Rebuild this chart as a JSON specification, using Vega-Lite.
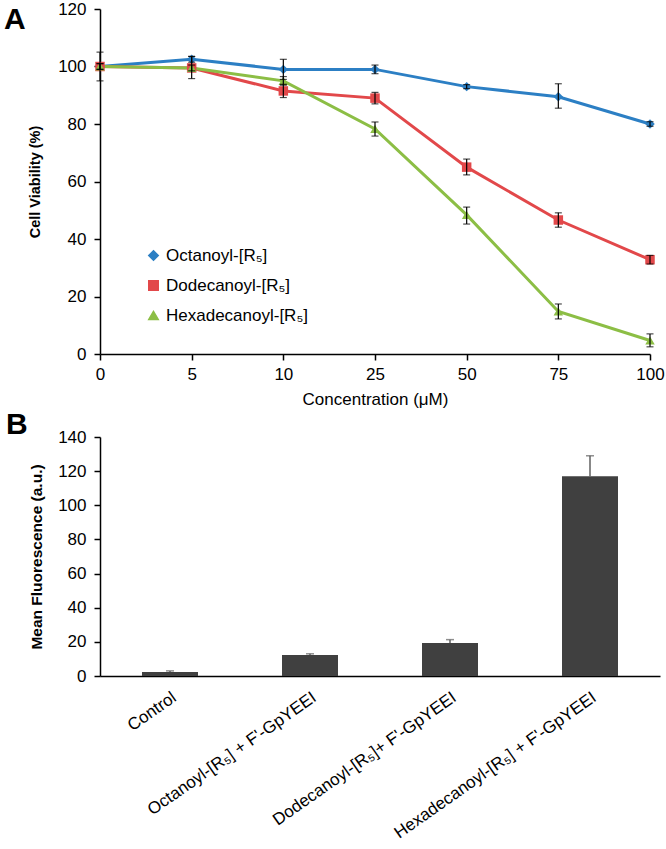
{
  "$schema": "https://vega.github.io/schema/vega-lite/v6.json",
  "background": "white",
  "padding": {"left": 3, "top": 0, "right": 4, "bottom": 0},
  "spacing": 3,
  "config": {
    "font": "Liberation Sans",
    "view": {"stroke": null},
    "axis": {
      "labelFont": "Liberation Sans",
      "labelFontSize": 17,
      "labelColor": "black",
      "domainColor": "black",
      "tickColor": "black",
      "domainWidth": 1.5,
      "tickWidth": 1.5,
      "tickSize": 6,
      "grid": false,
      "labelOverlap": false,
      "labelLimit": 0,
      "titleFont": "Liberation Sans",
      "titleColor": "black",
      "titleFontSize": 16
    },
    "legend": {"labelFont": "Liberation Sans", "labelColor": "black"}
  },
  "vconcat": [
    {
      "width": 550,
      "height": 345,
      "title": {"text": "A", "orient": "left", "anchor": "end", "angle": 0, "fontSize": 30, "fontWeight": "bold", "font": "Liberation Sans", "color": "black", "baseline": "top", "align": "left", "offset": 2, "dy": 5},
      "data": {"values": [
        {"conc": "0", "series": "Octanoyl-[R₅]", "v": 100, "lo": 95, "hi": 105},
        {"conc": "5", "series": "Octanoyl-[R₅]", "v": 102.5, "lo": 101.5, "hi": 103.5},
        {"conc": "10", "series": "Octanoyl-[R₅]", "v": 99, "lo": 95.5, "hi": 102.5},
        {"conc": "25", "series": "Octanoyl-[R₅]", "v": 99, "lo": 97.5, "hi": 100.5},
        {"conc": "50", "series": "Octanoyl-[R₅]", "v": 93, "lo": 92.3, "hi": 93.7},
        {"conc": "75", "series": "Octanoyl-[R₅]", "v": 89.5, "lo": 85.5, "hi": 94},
        {"conc": "100", "series": "Octanoyl-[R₅]", "v": 80, "lo": 79.2, "hi": 80.8},
        {"conc": "0", "series": "Dodecanoyl-[R₅]", "v": 100, "lo": 99, "hi": 101},
        {"conc": "5", "series": "Dodecanoyl-[R₅]", "v": 99.5, "lo": 98.5, "hi": 100.5},
        {"conc": "10", "series": "Dodecanoyl-[R₅]", "v": 91.5, "lo": 89.2, "hi": 93.8},
        {"conc": "25", "series": "Dodecanoyl-[R₅]", "v": 89, "lo": 87, "hi": 91},
        {"conc": "50", "series": "Dodecanoyl-[R₅]", "v": 65, "lo": 62.3, "hi": 67.8},
        {"conc": "75", "series": "Dodecanoyl-[R₅]", "v": 46.6, "lo": 44.1, "hi": 49.1},
        {"conc": "100", "series": "Dodecanoyl-[R₅]", "v": 32.8, "lo": 31.3, "hi": 34.3},
        {"conc": "0", "series": "Hexadecanoyl-[R₅]", "v": 100, "lo": 99, "hi": 101},
        {"conc": "5", "series": "Hexadecanoyl-[R₅]", "v": 99.5, "lo": 95.8, "hi": 103.5},
        {"conc": "10", "series": "Hexadecanoyl-[R₅]", "v": 95, "lo": 93.5, "hi": 96.5},
        {"conc": "25", "series": "Hexadecanoyl-[R₅]", "v": 78.3, "lo": 75.8, "hi": 80.7},
        {"conc": "50", "series": "Hexadecanoyl-[R₅]", "v": 48.4, "lo": 45.2, "hi": 51.1},
        {"conc": "75", "series": "Hexadecanoyl-[R₅]", "v": 14.8, "lo": 12.2, "hi": 17.4},
        {"conc": "100", "series": "Hexadecanoyl-[R₅]", "v": 4.7, "lo": 2.5, "hi": 7}
      ]},
      "layer": [
        {
          "mark": {"type": "line", "strokeWidth": 3},
          "encoding": {
            "x": {"field": "conc", "type": "ordinal", "sort": ["0", "5", "10", "25", "50", "75", "100"], "scale": {"type": "point", "padding": 0}, "axis": {"title": "Concentration (μM)", "labelAngle": 0, "labelPadding": 6, "titleFontWeight": "normal", "titleFontSize": 17, "titlePadding": 9}},
            "y": {"field": "v", "type": "quantitative", "scale": {"domain": [0, 120]}, "title": "Cell Viability (%)", "axis": {"values": [0, 20, 40, 60, 80, 100, 120], "labelOverlap": false, "labelPadding": 8, "titleFontWeight": "bold", "titleFontSize": 14.5, "titlePadding": 15}},
            "color": {"field": "series", "type": "nominal", "scale": {"domain": ["Octanoyl-[R₅]", "Dodecanoyl-[R₅]", "Hexadecanoyl-[R₅]"], "range": ["#2C7FC4", "#E2484A", "#8CBE45"]}, "legend": {"orient": "none", "legendX": 45, "legendY": 238, "title": null, "labelFontSize": 17, "rowPadding": 12, "symbolSize": 90}}
          }
        },
        {
          "mark": {"type": "point", "filled": true, "opacity": 1, "size": 90},
          "encoding": {
            "x": {"field": "conc", "type": "ordinal", "sort": ["0", "5", "10", "25", "50", "75", "100"]},
            "y": {"field": "v", "type": "quantitative", "title": "Cell Viability (%)"},
            "color": {"field": "series", "type": "nominal", "legend": {"orient": "none", "legendX": 45, "legendY": 238, "title": null, "labelFontSize": 17, "rowPadding": 12, "symbolSize": 90}},
            "shape": {"field": "series", "type": "nominal", "scale": {"domain": ["Octanoyl-[R₅]", "Dodecanoyl-[R₅]", "Hexadecanoyl-[R₅]"], "range": ["diamond", "square", "triangle-up"]}, "legend": {"orient": "none", "legendX": 45, "legendY": 238, "title": null, "labelFontSize": 17, "rowPadding": 12, "symbolSize": 90}}
          }
        },
        {
          "mark": {"type": "errorbar", "color": "black", "thickness": 1.2, "ticks": {"size": 7, "color": "black"}},
          "encoding": {
            "x": {"field": "conc", "type": "ordinal", "sort": ["0", "5", "10", "25", "50", "75", "100"]},
            "y": {"field": "lo", "type": "quantitative", "title": "Cell Viability (%)"},
            "y2": {"field": "hi"}
          }
        }
      ]
    },
    {
      "width": 560,
      "height": 239,
      "title": {"text": "B", "orient": "left", "anchor": "end", "angle": 0, "fontSize": 30, "fontWeight": "bold", "font": "Liberation Sans", "color": "black", "baseline": "top", "align": "left", "offset": 2, "dy": -18},
      "data": {"values": [
        {"g": "Control", "v": 2.3, "hi": 3},
        {"g": "Octanoyl-[R₅] + F'-GpYEEI", "v": 12.3, "hi": 13},
        {"g": "Dodecanoyl-[R₅]+ F'-GpYEEI", "v": 19.3, "hi": 21.3},
        {"g": "Hexadecanoyl-[R₅] + F'-GpYEEI", "v": 117, "hi": 129}
      ]},
      "layer": [
        {
          "mark": {"type": "bar", "color": "#404040"},
          "encoding": {
            "x": {"field": "g", "type": "nominal", "sort": null, "scale": {"paddingInner": 0.6, "paddingOuter": 0.3}, "axis": {"title": null, "labelAngle": -35, "ticks": false, "labelFontSize": 17, "labelPadding": 13}},
            "y": {"field": "v", "type": "quantitative", "scale": {"domain": [0, 140]}, "title": "Mean Fluorescence (a.u.)", "axis": {"values": [0, 20, 40, 60, 80, 100, 120, 140], "labelOverlap": false, "labelPadding": 8, "titleFontWeight": "bold", "titleFontSize": 15.5, "titlePadding": 13}}
          }
        },
        {
          "mark": {"type": "rule", "color": "#606060", "strokeWidth": 1.5},
          "encoding": {
            "x": {"field": "g", "type": "nominal", "sort": null},
            "y": {"field": "v", "type": "quantitative", "title": "Mean Fluorescence (a.u.)", "axis": {"values": [0, 20, 40, 60, 80, 100, 120, 140], "labelOverlap": false}},
            "y2": {"field": "hi"}
          }
        },
        {
          "mark": {"type": "tick", "color": "#606060", "thickness": 1.5, "size": 8},
          "encoding": {
            "x": {"field": "g", "type": "nominal", "sort": null},
            "y": {"field": "hi", "type": "quantitative", "title": "Mean Fluorescence (a.u.)", "axis": {"values": [0, 20, 40, 60, 80, 100, 120, 140], "labelOverlap": false}}
          }
        }
      ]
    }
  ]
}
